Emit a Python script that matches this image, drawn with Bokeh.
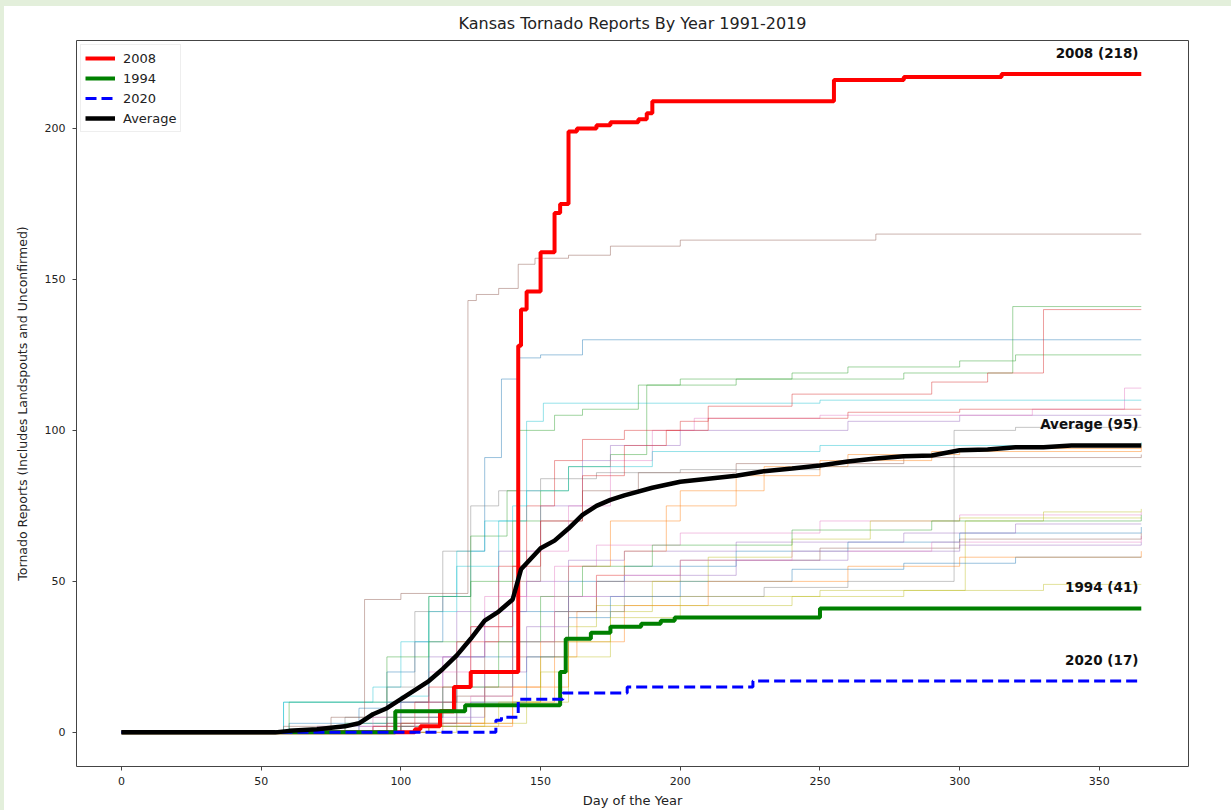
from bokeh.plotting import figure
from bokeh.models import Range1d, Legend, LegendItem, ColumnDataSource, Div
from bokeh.layouts import column, row
from bokeh.core.properties import value
from bokeh.embed import file_html
from bokeh.resources import INLINE

# ---- background years (day of year, cumulative reports) ----
d1991 = [0, 60, 85, 95, 105, 115, 125, 130, 136, 142, 150, 165, 365]
c1991 = [0, 3, 8, 20, 30, 45, 60, 91, 117, 124, 125, 130, 130]
d1992 = [0, 100, 130, 150, 160, 175, 200, 230, 260, 300, 365]
c1992 = [0, 3, 15, 30, 55, 70, 80, 88, 92, 94, 95]
d1993 = [0, 80, 95, 110, 125, 140, 150, 160, 175, 188, 220, 280, 319, 365]
c1993 = [0, 3, 10, 30, 50, 70, 80, 88, 92, 115, 117, 119, 141, 141]
d1995 = [0, 70, 95, 110, 120, 135, 150, 165, 175, 200, 260, 300, 365]
c1995 = [0, 2, 10, 25, 40, 60, 75, 90, 95, 100, 103, 105, 105]
d1996 = [0, 90, 115, 130, 140, 150, 165, 185, 220, 280, 365]
c1996 = [0, 2, 10, 30, 50, 70, 80, 86, 89, 91, 92]
d1997 = [0, 85, 100, 115, 130, 145, 160, 175, 190, 205, 250, 326, 359, 365]
c1997 = [0, 2, 10, 25, 45, 60, 75, 90, 100, 104, 105, 107, 114, 114]
d1998 = [0, 80, 95, 105, 115, 125, 135, 150, 170, 200, 250, 365]
c1998 = [0, 5, 15, 40, 60, 75, 80, 84, 86, 87, 88, 88]
d1999 = [0, 100, 130, 150, 160, 170, 200, 250, 302, 330, 365]
c1999 = [0, 2, 10, 25, 35, 42, 45, 47, 70, 73, 74]
d2000 = [0, 58, 90, 100, 110, 120, 130, 140, 145, 151, 250, 365]
c2000 = [0, 10, 15, 30, 45, 60, 70, 75, 103, 109, 110, 110]
d2001 = [0, 85, 100, 120, 140, 160, 180, 220, 260, 300, 365]
c2001 = [0, 3, 10, 25, 40, 50, 55, 60, 63, 66, 68]
d2002 = [0, 110, 140, 155, 163, 170, 180, 195, 220, 250, 290, 365]
c2002 = [0, 2, 10, 25, 40, 52, 60, 75, 85, 90, 93, 94]
d2003 = [0, 60, 95, 110, 125, 138, 142, 155, 165, 185, 200, 240, 260, 300, 320, 365]
c2003 = [0, 10, 25, 45, 65, 80, 100, 105, 107, 115, 117, 119, 121, 123, 125, 125]
d2004 = [0, 90, 105, 120, 135, 145, 155, 165, 180, 200, 210, 240, 290, 310, 330, 365]
c2004 = [0, 2, 10, 30, 55, 75, 90, 97, 100, 103, 108, 112, 116, 119, 140, 140]
d2005 = [0, 95, 115, 130, 145, 160, 180, 220, 280, 320, 365]
c2005 = [0, 5, 25, 40, 50, 57, 60, 63, 66, 69, 69]
d2006 = [0, 100, 120, 140, 155, 170, 200, 250, 300, 365]
c2006 = [0, 3, 12, 25, 40, 50, 57, 61, 64, 66]
d2007 = [0, 90, 110, 125, 140, 155, 170, 200, 250, 300, 365]
c2007 = [0, 5, 20, 35, 45, 55, 62, 66, 70, 72, 73]
d2009 = [0, 120, 145, 160, 175, 190, 210, 240, 268, 300, 365]
c2009 = [0, 3, 10, 25, 40, 50, 58, 64, 70, 71, 71]
d2010 = [0, 58, 100, 110, 120, 135, 145, 160, 190, 250, 365]
c2010 = [0, 10, 12, 40, 55, 70, 80, 88, 93, 95, 96]
d2011 = [0, 100, 125, 145, 160, 175, 200, 240, 280, 320, 365]
c2011 = [0, 2, 10, 25, 38, 45, 50, 54, 56, 58, 58]
d2012 = [0, 115, 140, 160, 180, 210, 260, 300, 365]
c2012 = [0, 3, 15, 30, 42, 50, 55, 58, 60]
d2013 = [0, 95, 115, 135, 150, 165, 190, 240, 290, 365]
c2013 = [0, 5, 15, 30, 45, 55, 62, 67, 70, 72]
d2014 = [0, 95, 110, 125, 140, 150, 165, 180, 195, 210, 260, 300, 365]
c2014 = [0, 3, 15, 35, 55, 70, 85, 95, 100, 104, 106, 107, 107]
d2015 = [0, 110, 130, 145, 160, 180, 220, 260, 300, 365]
c2015 = [0, 5, 20, 35, 45, 52, 57, 60, 62, 63]
d2016 = [0, 58, 75, 87, 100, 124, 127, 135, 142, 148, 160, 175, 200, 270, 365]
c2016 = [0, 2, 5, 44, 46, 143, 145, 147, 155, 157, 158, 161, 163, 165, 165]
d2017 = [0, 105, 125, 140, 155, 170, 200, 240, 290, 365]
c2017 = [0, 3, 12, 30, 45, 52, 57, 60, 63, 65]
d2018 = [0, 100, 120, 140, 160, 180, 230, 260, 298, 320, 365]
c2018 = [0, 3, 15, 30, 40, 45, 48, 50, 100, 101, 101]
d2019 = [0, 110, 135, 150, 160, 175, 200, 240, 280, 330, 365]
c2019 = [0, 2, 10, 20, 30, 38, 42, 45, 47, 49, 49]

# ---- highlighted series ----
d2008 = [0, 105, 107, 114, 119, 125, 142, 143, 145, 150, 155, 157, 160, 163, 170, 175, 185, 188, 190, 255, 280, 315, 365]
c2008 = [0, 1, 2, 7, 15, 20, 128, 140, 146, 159, 172, 175, 199, 200, 201, 202, 203, 205, 209, 216, 217, 218, 218]
d1994 = [0, 98, 123, 157, 159, 168, 175, 186, 193, 198, 210, 250, 365]
c1994 = [0, 7, 9, 20, 31, 33, 35, 36, 37, 38, 38, 41, 41]
d2020 = [0, 134, 136, 142, 158, 181, 226, 365]
c2020 = [0, 4, 5, 11, 13, 15, 17, 17]
d_avg = [0, 55, 60, 70, 80, 85, 90, 95, 100, 105, 110, 115, 120, 125, 130, 135, 140, 143, 145, 150, 155,
         160, 165, 170, 175, 180, 190, 200, 210, 220, 230, 240, 250, 260, 270, 280, 290, 300, 310, 320, 330, 340, 365]
c_avg = [0, 0, 0.5, 1, 2, 3, 6, 8, 11, 14, 17, 21, 25.5, 31, 37, 40, 44, 54, 56, 61, 63.5,
         67.5, 72, 75, 77, 78.5, 81, 83, 84, 85, 86.5, 87.4, 88.4, 89.7, 90.7, 91.4, 91.7, 93.4, 93.7, 94.4, 94.4, 95, 95]

labels = ["2008 (218)", "Average (95)", "1994 (41)", "2020 (17)"]
title_text = "Kansas Tornado Reports By Year 1991-2019"

TAB10 = ["#1f77b4", "#ff7f0e", "#2ca02c", "#d62728", "#9467bd",
         "#8c564b", "#e377c2", "#7f7f7f", "#bcbd22", "#17becf"]

background = [
    (1991, d1991, c1991), (1992, d1992, c1992), (1993, d1993, c1993),
    (1995, d1995, c1995), (1996, d1996, c1996), (1997, d1997, c1997),
    (1998, d1998, c1998), (1999, d1999, c1999), (2000, d2000, c2000),
    (2001, d2001, c2001), (2002, d2002, c2002), (2003, d2003, c2003),
    (2004, d2004, c2004), (2005, d2005, c2005), (2006, d2006, c2006),
    (2007, d2007, c2007), (2009, d2009, c2009), (2010, d2010, c2010),
    (2011, d2011, c2011), (2012, d2012, c2012), (2013, d2013, c2013),
    (2014, d2014, c2014), (2015, d2015, c2015), (2016, d2016, c2016),
    (2017, d2017, c2017), (2018, d2018, c2018), (2019, d2019, c2019),
]

FONT = "DejaVu Sans"
EDGE = "#e3efdb"

p = figure(frame_width=1112, frame_height=726, output_backend="svg", toolbar_location=None,
           x_range=Range1d(-16.1, 381.9), y_range=Range1d(-11.3, 229.1),
           title=title_text,
           min_border_left=72, min_border_right=43, min_border_top=34, min_border_bottom=44)

p.title.align = "center"
p.title.vertical_align = "top"
p.title.standoff = 12
p.title.offset = -6
p.title.text_font = FONT
p.title.text_font_style = "normal"
p.title.text_font_size = "16px"
p.title.text_color = "#222222"

p.outline_line_color = "#444444"
p.outline_line_width = 1
p.xgrid.visible = False
p.ygrid.visible = False
p.background_fill_color = "white"
p.border_fill_color = "white"

for ax in (p.xaxis[0], p.yaxis[0]):
    ax.axis_line_color = None
    ax.major_tick_line_color = "#444444"
    ax.major_tick_in = 0
    ax.major_tick_out = 4
    ax.minor_tick_line_color = None
    ax.major_label_text_font = FONT
    ax.major_label_text_font_size = "11px"
    ax.major_label_text_color = "#222222"
    ax.axis_label_text_font = FONT
    ax.axis_label_text_font_style = "normal"
    ax.axis_label_text_color = "#222222"

p.xaxis.major_label_standoff = 6
p.yaxis.major_label_standoff = 7
p.xaxis.axis_label_standoff = 5
p.xaxis.axis_label_text_font_size = "13px"
p.yaxis.axis_label_text_font_size = "12.5px"
p.yaxis.axis_label_standoff = 12
p.xaxis.ticker = [0, 50, 100, 150, 200, 250, 300, 350]
p.yaxis.ticker = [0, 50, 100, 150, 200]
p.xaxis.axis_label = "Day of the Year"
p.yaxis.axis_label = "Tornado Reports (Includes Landspouts and Unconfirmed)"

for yr, dd, cc in background:
    col = TAB10[(yr - 1991) % 10]
    p.step(dd, cc, mode="after", line_color=col, line_alpha=0.45, line_width=1)

r08 = p.step(d2008, c2008, mode="after", line_color="#ff0000", line_width=4)
r94 = p.step(d1994, c1994, mode="after", line_color="#008000", line_width=4)
r20 = p.step(d2020, c2020, mode="after", line_color="#0000ff", line_width=3, line_dash="11 5")
rav = p.line(d_avg, c_avg, line_color="black", line_width=4.5)

finals = [c2008[-1], c_avg[-1], c1994[-1], c2020[-1]]
lab_src = ColumnDataSource(dict(x=[d2008[-1] - 1] * 4, y=[f + 7 for f in finals], t=labels))
p.text(x="x", y="y", text="t", source=lab_src, text_align="right", text_baseline="middle",
       text_font=value(FONT), text_font_style="bold", text_font_size="13.5px", text_color="#111111")

legend = Legend(items=[
    LegendItem(label="2008", renderers=[r08]),
    LegendItem(label="1994", renderers=[r94]),
    LegendItem(label="2020", renderers=[r20]),
    LegendItem(label="Average", renderers=[rav]),
], location="top_left")
legend.margin = 4
legend.padding = 4
legend.spacing = 2
legend.glyph_width = 30
legend.glyph_height = 18
legend.label_height = 18
legend.label_standoff = 8
legend.label_text_font = FONT
legend.label_text_font_size = "13px"
legend.label_text_color = "#222222"
legend.border_line_color = "#dddddd"
legend.background_fill_alpha = 0.9
p.add_layout(legend)

top_strip = Div(text="", width=1231, height=6, margin=0, styles={"background-color": EDGE})
left_strip = Div(text="", width=4, height=804, margin=0, styles={"background-color": EDGE})
page = column(top_strip, row(left_strip, p, spacing=0), spacing=0)

open("out.html", "w").write(file_html(page, INLINE))
